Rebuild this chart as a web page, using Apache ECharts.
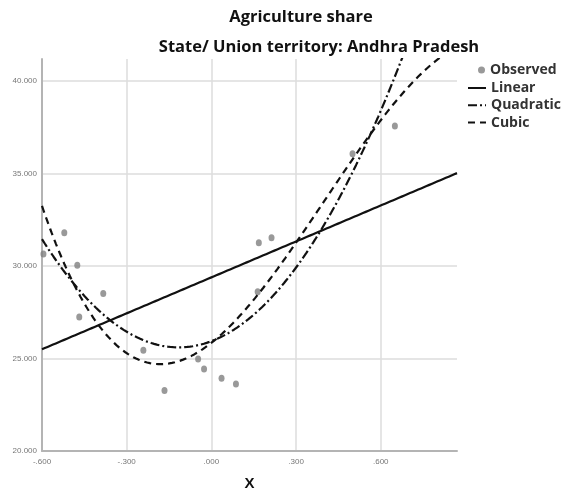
<!DOCTYPE html>
<html>
<head>
<meta charset="utf-8">
<script src="https://cdn.jsdelivr.net/npm/echarts@6/dist/echarts.min.js"></script>
<style>
  html, body { margin: 0; padding: 0; background: #fff; }
  #chart { width: 563px; height: 504px; }
</style>
</head>
<body>
<div id="chart"></div>
<script>
// Observed values
var obsX = [-0.595, -0.521, -0.475, -0.468, -0.383, -0.241, -0.166, -0.047, -0.026, 0.036, 0.087, 0.164, 0.168, 0.213, 0.500, 0.650];
var obsY = [30.65, 31.80, 30.04, 27.25, 28.52, 25.45, 23.27, 24.97, 24.43, 23.93, 23.63, 28.61, 31.26, 31.53, 36.07, 37.58];

// Fitted model coefficients, constant term first
var linearCoef = [29.39, 6.48];
var quadraticCoef = [25.94, 5.79, 24.97];
var cubicCoef = [25.85, 12.0, 27.0, -22.6];

// Axis ticks
var xTickValues = [-0.6, -0.3, 0, 0.3, 0.6];
var xTickLabels = ['-.600', '-.300', '.000', '.300', '.600'];
var yTickValues = [20, 25, 30, 35, 40];
var yTickLabels = ['20.000', '25.000', '30.000', '35.000', '40.000'];

var xMin = -0.6, xMax = 0.87, yMin = 20, yMax = 41.2;

function tickLabel(values, labels, v) {
  for (var i = 0; i < values.length; i++) {
    if (Math.abs(values[i] - v) < 1e-6) return labels[i];
  }
  return '';
}

// Sample a polynomial model across the x range
function polyCurve(coef) {
  var pts = [];
  var steps = 300;
  for (var i = 0; i <= steps; i++) {
    var x = xMin + (xMax - xMin) * i / steps;
    var y = 0, p = 1;
    for (var k = 0; k < coef.length; k++) { y += coef[k] * p; p *= x; }
    pts.push([x, y]);
  }
  return pts;
}

var observed = obsX.map(function (x, i) { return [x, obsY[i]]; });

var chart = echarts.init(document.getElementById('chart'), null, { renderer: 'canvas' });

var labelFont = { fontFamily: 'Liberation Sans', fontSize: 8, color: '#777' };
var titleFont = { fontFamily: 'Open Sans', fontWeight: 'bold', fontSize: 16.5, color: '#111' };
var legendText = { fontFamily: 'Open Sans', fontWeight: 'bold', fontSize: 14, color: '#333', lineHeight: 12 };

chart.setOption({
  animation: false,
  backgroundColor: '#fff',
  title: [
    { text: 'Agriculture share', left: 301, top: 9, padding: 0, textAlign: 'center', textStyle: titleFont },
    { text: 'State/ Union territory: Andhra Pradesh', left: 319, top: 39, padding: 0, textAlign: 'center', textStyle: titleFont }
  ],
  legend: [
    {
      data: ['Observed'],
      orient: 'vertical',
      left: 478, top: 63, padding: 0,
      itemWidth: 7, itemHeight: 7, itemGap: 0,
      textStyle: legendText
    },
    {
      data: [
        { name: 'Linear', itemStyle: { opacity: 0 } },
        { name: 'Quadratic', itemStyle: { opacity: 0 } },
        { name: 'Cubic', itemStyle: { opacity: 0 } }
      ],
      orient: 'vertical',
      left: 467, top: 81, padding: 0,
      itemWidth: 18, itemHeight: 12, itemGap: 3.3,
      textStyle: legendText
    }
  ],
  grid: { left: 42, right: 106, top: 59, bottom: 53, containLabel: false },
  xAxis: {
    type: 'value',
    min: xMin, max: xMax, interval: 0.3,
    name: 'X', nameLocation: 'middle', nameGap: 25,
    nameTextStyle: { fontFamily: 'Liberation Sans', fontWeight: 'bold', fontSize: 15, color: '#111' },
    axisLine: { show: true, onZero: false, lineStyle: { color: '#b4b4b4', width: 2 } },
    axisTick: { show: false },
    axisLabel: Object.assign({ margin: 7, showMaxLabel: false,
      formatter: function (v) { return tickLabel(xTickValues, xTickLabels, v); } }, labelFont),
    splitLine: { show: true, showMinLine: false, showMaxLine: false, lineStyle: { color: '#dcdcdc', width: 1.5 } }
  },
  yAxis: {
    type: 'value',
    min: yMin, max: yMax, interval: 5,
    axisLine: { show: true, onZero: false, lineStyle: { color: '#b4b4b4', width: 2 } },
    axisTick: { show: false },
    axisLabel: Object.assign({ margin: 5, showMaxLabel: false,
      formatter: function (v) { return tickLabel(yTickValues, yTickLabels, v); } }, labelFont),
    splitLine: { show: true, showMinLine: false, showMaxLine: false, lineStyle: { color: '#dcdcdc', width: 1.5 } }
  },
  series: [
    {
      name: 'Observed', type: 'scatter', data: observed,
      symbol: 'circle', symbolSize: [6, 7],
      itemStyle: { color: '#808080' }, z: 2
    },
    {
      name: 'Linear', type: 'line', data: polyCurve(linearCoef),
      symbol: 'none', clip: true,
      lineStyle: { color: '#111', width: 2.2, type: 'solid' },
      itemStyle: { color: '#111' }, z: 3
    },
    {
      name: 'Quadratic', type: 'line', data: polyCurve(quadraticCoef),
      symbol: 'none', clip: true,
      lineStyle: { color: '#111', width: 2.2, type: [9, 3, 2, 3] },
      itemStyle: { color: '#111' }, z: 3
    },
    {
      name: 'Cubic', type: 'line', data: polyCurve(cubicCoef),
      symbol: 'none', clip: true,
      lineStyle: { color: '#111', width: 2.2, type: [7, 5] },
      itemStyle: { color: '#111' }, z: 3
    }
  ]
});
</script>
</body>
</html>
